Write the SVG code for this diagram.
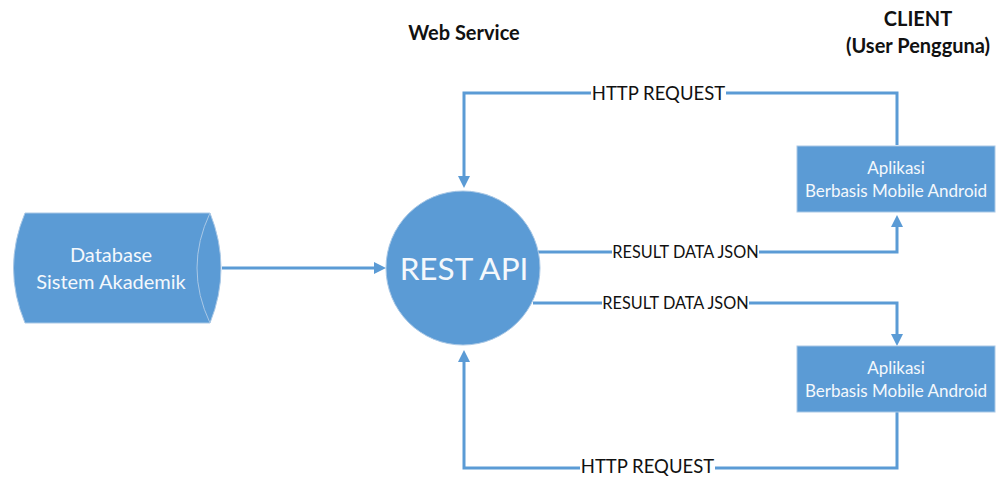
<svg xmlns="http://www.w3.org/2000/svg" width="997" height="477" viewBox="0 0 997 477">
<style>
.node{fill:#5B9BD5;stroke:#A9C8E6;stroke-width:1}
.ntext{font-family:Lato,"Open Sans",sans-serif;fill:#F4F8FC;text-anchor:middle}
.conn{fill:none;stroke:#5B9BD5;stroke-width:3}
.lbl{font-family:Lato,"Open Sans",sans-serif;font-size:16.3px;fill:#111;text-anchor:middle}
.http{font-size:18.5px}
.title{font-family:Lato,"Open Sans",sans-serif;font-size:20px;font-weight:bold;fill:#111;text-anchor:middle}
</style>
<defs>
<marker id="ah" viewBox="0 0 12 12" refX="0" refY="6" markerWidth="12" markerHeight="12" markerUnits="userSpaceOnUse" orient="auto">
<path d="M0,0 L12,6 L0,12 Z" fill="#5B9BD5"/>
</marker>
</defs>
<rect width="997" height="477" fill="#FFFFFF"/>
<g id="titles">
<text class="title" x="464" y="40">Web Service</text>
<text class="title" x="918" y="26">CLIENT</text>
<text class="title" x="918" y="53">(User Pengguna)</text>
</g>
<g id="connectors">
<path class="conn" d="M222,268 H374" marker-end="url(#ah)"/>
<path class="conn" d="M897,145 V93 H464 V176" marker-end="url(#ah)"/>
<path class="conn" d="M538,252 H897 V227" marker-end="url(#ah)"/>
<path class="conn" d="M533,303 H897 V334" marker-end="url(#ah)"/>
<path class="conn" d="M897,412 V468 H464 V362" marker-end="url(#ah)"/>
<rect x="591" y="83" width="135" height="20" fill="#FFFFFF"/>
<text class="lbl http" x="658.5" y="99.5">HTTP REQUEST</text>
<rect x="612" y="242" width="147" height="19" fill="#FFFFFF"/>
<text class="lbl" x="685.5" y="258">RESULT DATA JSON</text>
<rect x="602" y="293" width="147" height="19" fill="#FFFFFF"/>
<text class="lbl" x="675.5" y="309">RESULT DATA JSON</text>
<rect x="580" y="458" width="135" height="19" fill="#FFFFFF"/>
<text class="lbl http" x="647.5" y="473">HTTP REQUEST</text>
</g>
<g id="database">
<path class="node" d="M25,213 L210,213 Q232,268 210,323 L25,323 Q2,268 25,213 Z"/>
<path d="M210,213 Q184,268 210,323" fill="none" stroke="#A9C8E6" stroke-width="1"/>
<text class="ntext" x="111" y="262" font-size="20">Database</text>
<text class="ntext" x="111" y="289" font-size="20">Sistem Akademik</text>
</g>
<g id="restapi">
<circle class="node" cx="463" cy="268" r="77"/>
<text class="ntext" x="464" y="280" font-size="31.5">REST API</text>
</g>
<g id="client1">
<rect class="node" x="797" y="146" width="198" height="66"/>
<text class="ntext" x="896" y="174" font-size="17">Aplikasi</text>
<text class="ntext" x="896" y="197" font-size="17">Berbasis Mobile Android</text>
</g>
<g id="client2">
<rect class="node" x="797" y="346" width="198" height="66"/>
<text class="ntext" x="896" y="374" font-size="17">Aplikasi</text>
<text class="ntext" x="896" y="397" font-size="17">Berbasis Mobile Android</text>
</g>
</svg>
